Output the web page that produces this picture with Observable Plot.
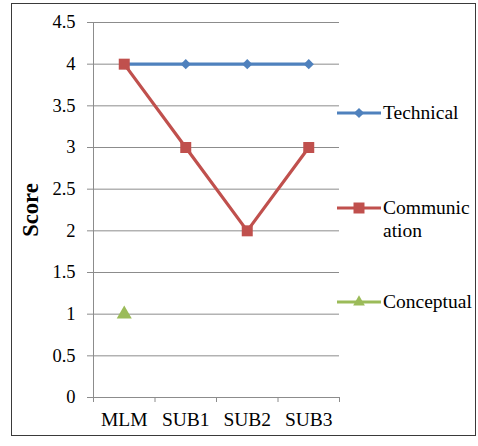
<!DOCTYPE html>
<html><head><meta charset="utf-8">
<script src="https://cdn.jsdelivr.net/npm/d3@7"></script>
<script src="https://cdn.jsdelivr.net/npm/@observablehq/plot@0.6"></script>
<style>
body{margin:0;background:#fff;}
#wrap{position:relative;width:478px;height:446px;font-family:'Liberation Serif','Times New Roman',serif;}
#wrap svg text{font-family:'Liberation Serif','Times New Roman',serif;}
#border{position:absolute;left:11px;top:3px;width:463px;height:431px;border:1.5px solid #3a3a3a;pointer-events:none;}
.leg{position:absolute;left:337px;display:flex;align-items:flex-start;font-size:19.5px;line-height:23px;color:#000;}
.leg svg{flex:none;margin-top:5px;}
.leg span{margin-left:2px;}
</style>
</head><body>
<div id="wrap"><div id="border"></div></div>
<script>
const categories = ["MLM","SUB1","SUB2","SUB3"];
const technical = [4,4,4,4];
const communication = [4,3,2,3];
const conceptual = [1,null,null,null];
const yTicks = [0,0.5,1,1.5,2,2.5,3,3.5,4,4.5];
const seriesNames = ["Technical","Communication","Conceptual"];
const seriesLabels = [["Technical"],["Communic","ation"],["Conceptual"]];
const seriesColors = ["#4F81BD","#C0504D","#9BBB59"];
const seriesSymbols = ["diamond2","square","triangle"];
const seriesR = [4.6,6.2,5.6];
const seriesValues = [technical, communication, conceptual];

const rows = [];
seriesNames.forEach((s, k) => {
  seriesValues[k].forEach((v, i) => {
    if (v != null) rows.push({series: s, cat: categories[i], i, value: v});
  });
});

const marks = [
  Plot.gridY(yTicks, {stroke: "#8c8c8c", strokeOpacity: 1}),
  Plot.ruleX([0], {stroke: "#8c8c8c"}),
  Plot.ruleY([0], {stroke: "#8c8c8c"}),
  Plot.axisY(yTicks, {tickSize: 6, tickPadding: 12, stroke: "#8c8c8c", fill: "#000", fontSize: 18.5, tickFormat: d => String(d), label: null}),
  Plot.axisX(d3.range(categories.length + 1), {tickSize: 5, stroke: "#8c8c8c", tickFormat: () => "", label: null}),
  Plot.axisX(categories.map((c, i) => i + 0.5), {tickSize: 0, tickPadding: 15, fill: "#000", fontSize: 19.5, tickFormat: d => categories[d - 0.5], label: null}),
  Plot.text(["Score"], {frameAnchor: "left", textAnchor: "middle", rotate: -90, dx: -63, fontWeight: "bold", fontSize: 22.5, fill: "#000"})
];
seriesNames.forEach((s, k) => {
  const data = rows.filter(d => d.series === s);
  marks.push(Plot.line(data, {x: d => d.i + 0.5, y: "value", stroke: seriesColors[k], strokeWidth: 3.2}));
  marks.push(Plot.dot(data, {x: d => d.i + 0.5, y: "value", symbol: seriesSymbols[k], fill: seriesColors[k], r: seriesR[k], stroke: "none"}));
});

const chart = Plot.plot({
  width: 478, height: 446,
  marginLeft: 93, marginRight: 139, marginTop: 22, marginBottom: 49,
  x: {type: "linear", domain: [0, categories.length], axis: null},
  y: {domain: [0, 4.5], axis: null},
  style: {fontFamily: "'Liberation Serif','Times New Roman',serif", background: "#fff", overflow: "visible"},
  marks
});
const wrap = document.getElementById("wrap");
wrap.insertBefore(chart, wrap.firstChild);

const legTops = [101, 196, 290];
seriesNames.forEach((s, k) => {
  const div = document.createElement("div");
  div.className = "leg";
  div.style.top = legTops[k] + "px";
  const sym = d3.symbol(k === 0 ? d3.symbolDiamond2 : k === 1 ? d3.symbolSquare : d3.symbolTriangle2, Math.PI * seriesR[k] * seriesR[k])();
  div.innerHTML = `<svg width="44" height="14"><line x1="0" x2="44" y1="7" y2="7" stroke="${seriesColors[k]}" stroke-width="3.2"/><path transform="translate(22,7)" d="${sym}" fill="${seriesColors[k]}"/></svg><span>${seriesLabels[k].join("<br>")}</span>`;
  wrap.appendChild(div);
});
</script>
</body></html>
